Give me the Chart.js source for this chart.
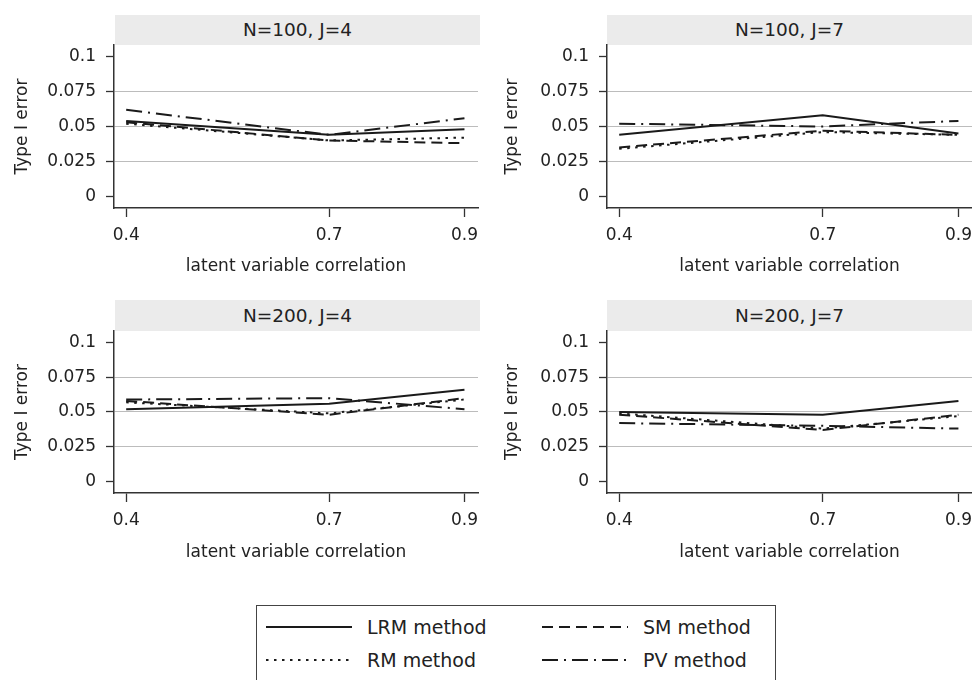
<!DOCTYPE html>
<html>
<head>
<meta charset="utf-8">
<title>Type I error by latent variable correlation</title>
<script src="https://cdn.jsdelivr.net/npm/chart.js@4.4.1/dist/chart.umd.min.js"></script>
<style>
  body { margin: 0; background: #fff; font-family: "DejaVu Sans", sans-serif; color: #222; }
  #page { position: relative; width: 972px; height: 680px; overflow: hidden; }
  .strip { position: absolute; background: #ebebeb; font-size: 18.5px; text-align: center; }
  .panel { position: absolute; }
  #legend { position: absolute; left: 256px; top: 605px; width: 520px; height: 100px;
            border: 1.5px solid #444; box-sizing: border-box; }
  .item { position: absolute; height: 26px; display: flex; align-items: center; font-size: 19px; white-space: nowrap; }
  .item svg { margin-right: 15px; }
</style>
</head>
<body>
<div id="page">
  <div id="legend"></div>
</div>
<script>
// x positions and tick labels
const xValues = [0.4, 0.7, 0.9];
const xTickLabels = ["0.4", "0.7", "0.9"];
const yTicks = [0, 0.025, 0.05, 0.075, 0.1];
const yTickLabels = ["0", "0.025", "0.05", "0.075", "0.1"];

// panel order: N=100 J=4, N=100 J=7, N=200 J=4, N=200 J=7
const panelTitles = ["N=100, J=4", "N=100, J=7", "N=200, J=4", "N=200, J=7"];

// Type I error per method, one row per panel
const lrmValues = [
    [0.054, 0.044, 0.048],
    [0.044, 0.058, 0.045],
    [0.052, 0.056, 0.066],
    [0.050, 0.048, 0.058],
];
const rmValues = [
    [0.052, 0.040, 0.042],
    [0.034, 0.046, 0.044],
    [0.057, 0.049, 0.059],
    [0.049, 0.038, 0.047],
];
const smValues = [
    [0.053, 0.040, 0.038],
    [0.035, 0.047, 0.044],
    [0.058, 0.048, 0.060],
    [0.048, 0.037, 0.048],
];
const pvValues = [
    [0.062, 0.044, 0.056],
    [0.052, 0.050, 0.054],
    [0.059, 0.060, 0.052],
    [0.042, 0.040, 0.038],
];

const methodNames = ["LRM method", "RM method", "SM method", "PV method"];
const methodValues = [lrmValues, rmValues, smValues, pvValues];
const methodDashes = [[], [2.5, 5.5], [11, 6], [16, 6, 2, 6]];

const LINE_COLOR = "#1a1a1a";
const AXIS_COLOR = "#333";

// layout of the four facets (page pixels)
const panels = [
    { left: 0,   top: 40,  yWidth: 114, padRight: 4, xHeight: 72, strip: [115, 15, 365, 30] },
    { left: 490, top: 40,  yWidth: 117, padRight: 0, xHeight: 72, strip: [607, 15, 365, 30] },
    { left: 0,   top: 326, yWidth: 114, padRight: 4, xHeight: 73, strip: [115, 300, 365, 31] },
    { left: 490, top: 326, yWidth: 117, padRight: 0, xHeight: 73, strip: [607, 300, 365, 31] },
];

Chart.defaults.font.family = "'DejaVu Sans', sans-serif";
Chart.defaults.color = "#222";

const page = document.getElementById("page");

function makePanel(i) {
    const p = panels[i];

    const strip = document.createElement("div");
    strip.className = "strip";
    strip.style.left = p.strip[0] + "px";
    strip.style.top = p.strip[1] + "px";
    strip.style.width = p.strip[2] + "px";
    strip.style.height = p.strip[3] + "px";
    strip.style.lineHeight = p.strip[3] + "px";
    strip.textContent = panelTitles[i];
    page.appendChild(strip);

    const canvas = document.createElement("canvas");
    canvas.className = "panel";
    canvas.width = 482;
    canvas.height = 240;
    canvas.style.left = p.left + "px";
    canvas.style.top = p.top + "px";
    page.appendChild(canvas);

    const datasets = methodNames.map((name, k) => ({
        label: name,
        data: xValues.map((x, j) => ({ x, y: methodValues[k][i][j] })),
        borderColor: LINE_COLOR,
        borderWidth: 2,
        borderDash: methodDashes[k],
        pointRadius: 0,
        tension: 0,
        fill: false,
    }));

    new Chart(canvas, {
        type: "line",
        data: { datasets },
        options: {
            responsive: false,
            animation: false,
            events: [],
            layout: { padding: { left: 0, top: 5, right: p.padRight, bottom: 0 } },
            plugins: {
                legend: { display: false },
                tooltip: { enabled: false },
            },
            scales: {
                x: {
                    type: "linear",
                    min: 0.382,
                    max: 0.92,
                    afterBuildTicks: (scale) => {
                        scale.ticks = xValues.map((v) => ({ value: v }));
                    },
                    afterFit: (scale) => {
                        scale.height = p.xHeight;
                        scale.paddingLeft = 0;
                        scale.paddingRight = 0;
                    },
                    ticks: {
                        callback: (v, idx) => xTickLabels[idx],
                        font: { size: 17 },
                        color: "#222",
                        padding: 8,
                        maxRotation: 0,
                        autoSkip: false,
                    },
                    grid: {
                        drawOnChartArea: false,
                        tickLength: 9,
                        tickColor: AXIS_COLOR,
                        tickWidth: 1.3,
                    },
                    border: { color: AXIS_COLOR, width: 1.5 },
                    title: {
                        display: true,
                        text: "latent variable correlation",
                        font: { size: 17 },
                        color: "#222",
                        padding: { top: 0, bottom: 3 },
                    },
                },
                y: {
                    min: -0.0085,
                    max: 0.1085,
                    afterBuildTicks: (scale) => {
                        scale.ticks = yTicks.map((v) => ({ value: v }));
                    },
                    afterFit: (scale) => {
                        scale.width = p.yWidth;
                        scale.paddingTop = 0;
                        scale.paddingBottom = 0;
                    },
                    ticks: {
                        callback: (v, idx) => yTickLabels[idx],
                        font: { size: 17 },
                        color: "#222",
                        padding: 10,
                    },
                    grid: {
                        color: (ctx) => {
                            const v = ctx.tick ? ctx.tick.value : 0;
                            return v > 0.001 && v < 0.099 ? "#bcbcbc" : "rgba(0,0,0,0)";
                        },
                        lineWidth: 1,
                        tickLength: 8,
                        tickColor: AXIS_COLOR,
                        tickWidth: 1.3,
                    },
                    border: { color: AXIS_COLOR, width: 1.5 },
                    title: {
                        display: true,
                        text: "Type I error",
                        font: { size: 17 },
                        color: "#222",
                        padding: { top: 12, bottom: 0 },
                    },
                },
            },
        },
    });
}

panels.forEach((p, i) => makePanel(i));

// legend: two columns, LRM/RM left, SM/PV right
const legend = document.getElementById("legend");
methodNames.forEach((name, k) => {
    const col = Math.floor(k / 2);
    const row = k % 2;
    const item = document.createElement("div");
    item.className = "item";
    item.style.left = (col ? 285 : 9) + "px";
    item.style.top = (row ? 41 : 8) + "px";
    const dash = methodDashes[k].length ? methodDashes[k].join(" ") : "none";
    item.innerHTML =
        '<svg width="86" height="6"><line x1="0" y1="3" x2="86" y2="3" stroke="' + LINE_COLOR +
        '" stroke-width="2" stroke-dasharray="' + dash + '"/></svg><span></span>';
    item.querySelector("span").textContent = name;
    legend.appendChild(item);
});
</script>
</body>
</html>
